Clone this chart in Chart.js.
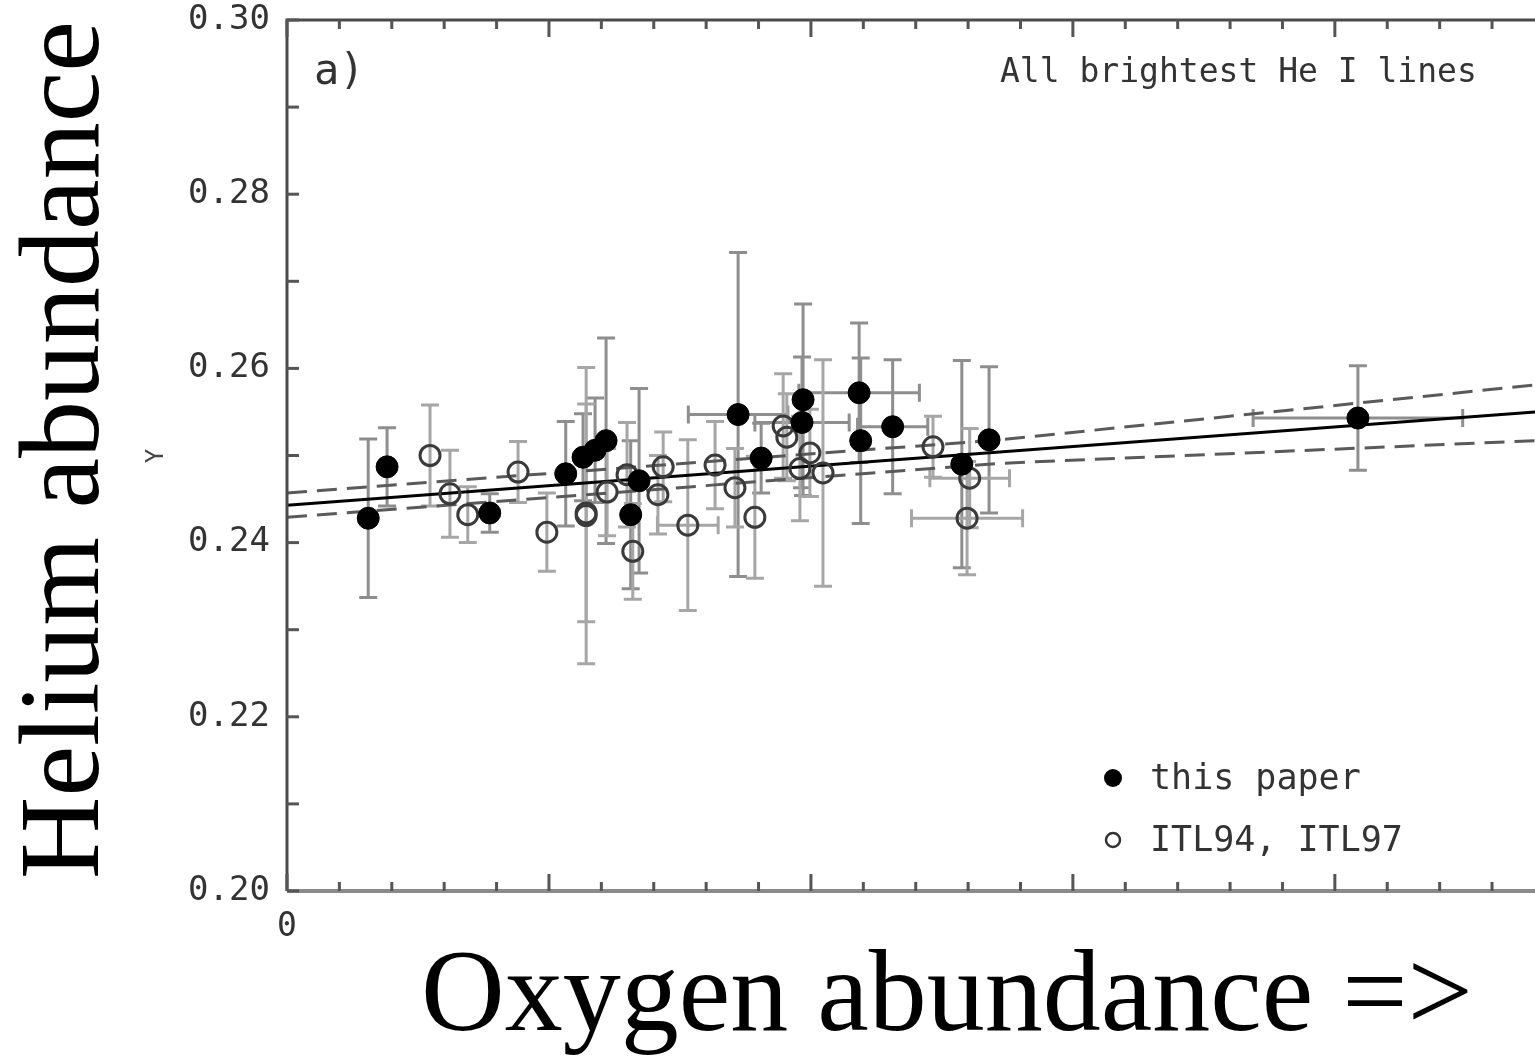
<!DOCTYPE html>
<html>
<head>
<meta charset="utf-8">
<script src="https://cdn.jsdelivr.net/npm/chart.js@4.4.1/dist/chart.umd.min.js"></script>
<style>
  html, body { margin: 0; padding: 0; background: #fff; overflow: hidden; }
  canvas { display: block; }
</style>
</head>
<body>
<canvas id="grafica" width="1535" height="1056"></canvas>
<script>
// this paper (filled)
const paperO    = [15.5, 19.1, 38.7, 53.2, 56.5, 58.8, 60.9, 67.2, 65.6, 86.1, 90.5, 98.5, 98.3, 109.2, 109.5, 115.6, 128.8, 134.0, 204.4];
const paperY    = [0.2428, 0.2487, 0.2434, 0.2479, 0.2498, 0.2506, 0.2517, 0.2471, 0.2432, 0.2547, 0.2497, 0.2564, 0.2538, 0.2572, 0.2517, 0.2533, 0.2490, 0.2518, 0.2543];
const paperYErr = [0.0091, 0.0045, 0.0022, 0.0060, 0.0050, 0.0060, 0.0118, 0.0106, 0.0085, 0.0186, 0.0040, 0.0110, 0.0075, 0.0080, 0.0095, 0.0077, 0.0119, 0.0084, 0.0060];
const paperOErr = [0, 0, 0, 0, 0, 0, 0, 0, 0, 9.5, 0, 0, 9, 11.5, 0, 6.7, 0, 0, 20];

// ITL94, ITL97 (open)
const itlO    = [27.3, 31.1, 34.5, 44.1, 49.6, 57.1, 57.1, 61.1, 64.9, 66.0, 70.8, 71.8, 76.5, 81.7, 85.5, 89.3, 94.7, 95.4, 97.9, 99.8, 102.3, 123.3, 130.3, 129.8];
const itlY    = [0.2500, 0.2456, 0.2432, 0.2481, 0.2412, 0.2434, 0.2431, 0.2458, 0.2478, 0.2390, 0.2455, 0.2487, 0.2420, 0.2489, 0.2463, 0.2429, 0.2534, 0.2521, 0.2485, 0.2503, 0.2480, 0.2510, 0.2474, 0.2428];
const itlYErr = [0.0058, 0.0050, 0.0032, 0.0035, 0.0045, 0.0125, 0.0170, 0.0050, 0.0060, 0.0055, 0.0045, 0.0040, 0.0098, 0.0050, 0.0045, 0.0070, 0.0060, 0.0050, 0.0060, 0.0050, 0.0130, 0.0035, 0.0057, 0.0065];
const itlOErr = [0, 0, 0, 0, 0, 0, 0, 0, 0, 0, 0, 0, 5.8, 0, 0, 0, 0, 0, 0, 0, 0, 0, 7.6, 10.6];

// regression and its band
const fitO   = [0, 238.2];
const fitY   = [0.2443, 0.2550];
const bandO  = [0, 136.1, 238.2];
const upperY = [0.2457, 0.2518, 0.2581];
const lowerY = [0.2429, 0.2491, 0.2517];

// axes
const yLabelValues = [0.20, 0.22, 0.24, 0.26, 0.28, 0.30];
const yLabelTexts  = ['0.20', '0.22', '0.24', '0.26', '0.28', '0.30'];
const yMinorTicks  = [0.20, 0.21, 0.22, 0.23, 0.24, 0.25, 0.26, 0.27, 0.28, 0.29, 0.30];
const xMajorTicks  = [0, 50, 100, 150, 200];
const xMinorTicks  = [10, 20, 30, 40, 60, 70, 80, 90, 110, 120, 130, 140, 160, 170, 180, 190, 210, 220, 230];

const MONO = '"DejaVu Sans Mono", monospace';
const SERIF = '"Liberation Serif", "DejaVu Serif", serif';

// where the plot box sits in the picture
const AREA = { left: 287, top: 20, right: 1535, bottom: 891 };

const juntaPuntos = (xs, ys) => xs.map((v, i) => ({ x: v, y: ys[i] }));

const sinRelleno = (s) => {
    s.paddingTop = 0;
    s.paddingBottom = 0;
    s.paddingLeft = 0;
    s.paddingRight = 0;
};

const barrasPlugin = {
    id: 'barras',
    beforeDatasetsDraw(chart) {
        const { ctx, chartArea: a, scales: { x, y } } = chart;
        ctx.save();
        ctx.beginPath();
        ctx.rect(a.left, a.top, a.right - a.left, a.bottom - a.top);
        ctx.clip();
        chart.data.datasets.forEach(ds => {
            if (!ds.yErr) return;
            ctx.strokeStyle = ds.errColor;
            ctx.lineWidth = 3;
            ds.data.forEach((p, i) => {
                const px = x.getPixelForValue(p.x);
                const py = y.getPixelForValue(p.y);
                const e = ds.yErr[i];
                if (e) {
                    const t = y.getPixelForValue(p.y + e);
                    const b = y.getPixelForValue(p.y - e);
                    ctx.beginPath();
                    ctx.moveTo(px, t); ctx.lineTo(px, b);
                    ctx.moveTo(px - 9, t); ctx.lineTo(px + 9, t);
                    ctx.moveTo(px - 9, b); ctx.lineTo(px + 9, b);
                    ctx.stroke();
                }
                const ex = ds.xErr[i];
                if (ex) {
                    const l = x.getPixelForValue(p.x - ex);
                    const r = x.getPixelForValue(p.x + ex);
                    ctx.beginPath();
                    ctx.moveTo(l, py); ctx.lineTo(r, py);
                    ctx.moveTo(l, py - 9); ctx.lineTo(l, py + 9);
                    ctx.moveTo(r, py - 9); ctx.lineTo(r, py + 9);
                    ctx.stroke();
                }
            });
        });
        ctx.restore();
    }
};

const marcoPlugin = {
    id: 'marco',
    afterDraw(chart) {
        const { ctx, chartArea: a, scales: { x, y } } = chart;
        ctx.save();
        // frame
        ctx.lineWidth = 3;
        ctx.strokeStyle = '#4a4a4a';
        ctx.beginPath();
        ctx.moveTo(a.left, a.bottom); ctx.lineTo(a.left, a.top); ctx.lineTo(a.right + 2, a.top);
        ctx.stroke();
        ctx.lineWidth = 4;
        ctx.strokeStyle = '#8a8a8a';
        ctx.beginPath();
        ctx.moveTo(a.left, a.bottom); ctx.lineTo(a.right + 2, a.bottom);
        ctx.stroke();

        // inward ticks
        ctx.lineWidth = 3;
        ctx.strokeStyle = '#555';
        const tickX = (v, len) => {
            const px = x.getPixelForValue(v);
            ctx.beginPath();
            ctx.moveTo(px, a.bottom); ctx.lineTo(px, a.bottom - len);
            ctx.moveTo(px, a.top); ctx.lineTo(px, a.top + len);
            ctx.stroke();
        };
        xMajorTicks.forEach(v => tickX(v, 17));
        xMinorTicks.forEach(v => tickX(v, 9));
        yMinorTicks.forEach(v => {
            const py = y.getPixelForValue(v);
            ctx.beginPath();
            ctx.moveTo(a.left, py); ctx.lineTo(a.left + 12, py);
            ctx.stroke();
        });

        // texts inside the panel
        ctx.fillStyle = '#333';
        ctx.textBaseline = 'alphabetic';
        ctx.textAlign = 'left';
        ctx.font = '42px ' + MONO;
        ctx.fillText('a)', 314, 84);
        ctx.font = '33px ' + MONO;
        ctx.fillText('All brightest He I lines', 1000, 82);

        // legend
        ctx.font = '35px ' + MONO;
        ctx.fillText('this paper', 1150, 789);
        ctx.fillText('ITL94, ITL97', 1150, 851);
        ctx.fillStyle = '#000';
        ctx.beginPath(); ctx.arc(1113, 778, 9, 0, Math.PI * 2); ctx.fill();
        ctx.strokeStyle = '#333';
        ctx.lineWidth = 2.5;
        ctx.beginPath(); ctx.arc(1113, 840, 7, 0, Math.PI * 2); ctx.stroke();

        // small original axis label
        ctx.fillStyle = '#444';
        ctx.font = '24px ' + MONO;
        ctx.save();
        ctx.translate(163, 456);
        ctx.rotate(-Math.PI / 2);
        ctx.textAlign = 'center';
        ctx.fillText('Y', 0, 0);
        ctx.restore();

        // big titles
        ctx.fillStyle = '#000';
        ctx.font = '114px ' + SERIF;
        ctx.save();
        ctx.translate(98, 450);
        ctx.rotate(-Math.PI / 2);
        ctx.textAlign = 'center';
        ctx.fillText('Helium abundance', 0, 0);
        ctx.restore();
        ctx.font = '116px ' + SERIF;
        ctx.textAlign = 'center';
        ctx.fillText('Oxygen abundance =>', 947, 1030);
        ctx.restore();
    }
};

const ctx = document.getElementById('grafica');

const grafica = new Chart(ctx, {
    type: 'scatter',
    data: {
        datasets: [
            {
                label: 'this paper',
                data: juntaPuntos(paperO, paperY),
                yErr: paperYErr,
                xErr: paperOErr,
                errColor: '#8e8e8e',
                pointRadius: 11,
                pointBackgroundColor: '#000',
                pointBorderColor: '#000',
                pointBorderWidth: 1
            },
            {
                label: 'ITL94, ITL97',
                data: juntaPuntos(itlO, itlY),
                yErr: itlYErr,
                xErr: itlOErr,
                errColor: '#a6a6a6',
                pointRadius: 10,
                pointBackgroundColor: 'rgba(0,0,0,0)',
                pointBorderColor: '#3a3a3a',
                pointBorderWidth: 3
            },
            {
                label: 'fit',
                type: 'line',
                data: juntaPuntos(fitO, fitY),
                borderColor: '#000',
                borderWidth: 3,
                pointRadius: 0
            },
            {
                label: 'upper',
                type: 'line',
                data: juntaPuntos(bandO, upperY),
                borderColor: '#5a5a5a',
                borderWidth: 3,
                borderDash: [20, 10],
                pointRadius: 0
            },
            {
                label: 'lower',
                type: 'line',
                data: juntaPuntos(bandO, lowerY),
                borderColor: '#5a5a5a',
                borderWidth: 3,
                borderDash: [20, 10],
                pointRadius: 0
            }
        ]
    },
    options: {
        responsive: false,
        animation: false,
        devicePixelRatio: 1,
        layout: { autoPadding: false, padding: { top: 20, left: 0, right: 0, bottom: 0 } },
        plugins: {
            legend: { display: false },
            tooltip: { enabled: false }
        },
        scales: {
            x: {
                type: 'linear',
                min: 0,
                max: 238.2,
                grid: { display: false, drawTicks: false },
                border: { display: false },
                afterBuildTicks: (s) => { s.ticks = [{ value: 0 }]; },
                afterFit: (s) => { s.height = 165; sinRelleno(s); },
                ticks: {
                    padding: 17,
                    maxRotation: 0,
                    color: '#333',
                    font: { family: MONO, size: 33 },
                    callback: () => '0'
                }
            },
            y: {
                type: 'linear',
                min: 0.20,
                max: 0.30,
                grid: { display: false, drawTicks: false },
                border: { display: false },
                afterBuildTicks: (s) => { s.ticks = yLabelValues.map(v => ({ value: v })); },
                afterFit: (s) => { s.width = 287; sinRelleno(s); },
                ticks: {
                    padding: 17,
                    color: '#333',
                    font: { family: MONO, size: 34 },
                    callback: (v, i) => yLabelTexts[i]
                }
            }
        }
    },
    plugins: [barrasPlugin, marcoPlugin]
});

// nudge the layout padding so the plot box lands where the original one is
const ajustaArea = () => {
    const a = grafica.chartArea;
    const p = grafica.config.options.layout.padding;
    const dTop = AREA.top - a.top, dRight = a.right - AREA.right;
    const dLeft = AREA.left - a.left, dBottom = a.bottom - AREA.bottom;
    if (!dTop && !dRight && !dLeft && !dBottom) return;
    p.top += dTop;
    p.right += dRight;
    p.left += dLeft;
    p.bottom += dBottom;
    grafica.update('none');
};
ajustaArea();
ajustaArea();
</script>
</body>
</html>
